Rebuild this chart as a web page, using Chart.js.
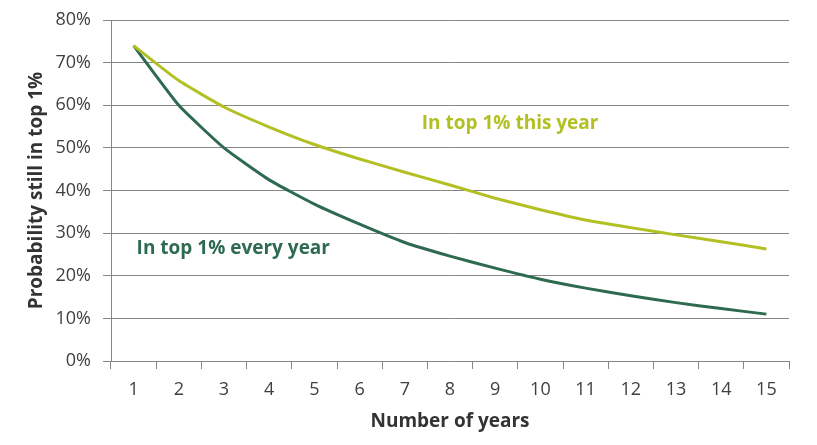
<!DOCTYPE html>
<html>
<head>
<meta charset="utf-8">
<script src="https://cdn.jsdelivr.net/npm/chart.js@4/dist/chart.umd.min.js"></script>
<style>
  html, body { margin: 0; padding: 0; background: #fff; }
  #wrap { width: 817px; height: 445px; }
</style>
</head>
<body>
<div id="wrap"><canvas id="probChart" width="817" height="445"></canvas></div>
<script>
// years and probabilities (percent)
const years = ['1','2','3','4','5','6','7','8','9','10','11','12','13','14','15'];
const thisYear  = [74, 65.8, 59.6, 54.9, 50.8, 47.4, 44.3, 41.3, 38.2, 35.5, 33.1, 31.3, 29.6, 28.0, 26.3];
const everyYear = [74, 60.0, 50.0, 42.5, 36.8, 32.1, 27.8, 24.6, 21.8, 19.2, 17.1, 15.3, 13.7, 12.3, 11.0];
const yTicks = [0, 10, 20, 30, 40, 50, 60, 70, 80];

const lime = '#b3c024';
const green = '#2e6a4f';
const font = '"Open Sans", "Noto Sans", sans-serif';

// series labels drawn next to the lines
const labelPlugin = {
  id: 'seriesLabels',
  afterDatasetsDraw(chart) {
    const { ctx, scales } = chart;
    ctx.save();
    ctx.font = 'bold 19px ' + font;
    ctx.textBaseline = 'middle';
    ctx.textAlign = 'left';
    ctx.fillStyle = lime;
    ctx.fillText('In top 1% this year', scales.x.getPixelForValue(6) + 17, scales.y.getPixelForValue(55.6));
    ctx.fillStyle = green;
    ctx.fillText('In top 1% every year', scales.x.getPixelForValue(0) + 3, scales.y.getPixelForValue(26.4));
    ctx.restore();
  }
};

const ctx = document.getElementById('probChart').getContext('2d');
new Chart(ctx, {
  type: 'line',
  data: {
    labels: years,
    datasets: [
      { label: 'In top 1% this year', data: thisYear, borderColor: lime, borderWidth: 3, pointRadius: 0, tension: 0.15, fill: false },
      { label: 'In top 1% every year', data: everyYear, borderColor: green, borderWidth: 3, pointRadius: 0, tension: 0.15, fill: false }
    ]
  },
  options: {
    responsive: false,
    animation: false,
    layout: { padding: { left: 0, right: 28, top: 8, bottom: 0 } },
    plugins: { legend: { display: false }, tooltip: { enabled: false } },
    scales: {
      x: {
        offset: true,
        grid: { offset: true, drawOnChartArea: false, color: '#868686', tickLength: 8 },
        border: { color: '#868686' },
        ticks: { color: '#404040', font: { family: font, size: 18 }, padding: 10, maxRotation: 0 },
        title: { display: true, text: 'Number of years', color: '#333', font: { family: font, size: 19, weight: 'bold' }, padding: { top: 0, bottom: 12 } },
        afterFit(scale) { scale.height = 84; }
      },
      y: {
        min: 0,
        max: 80,
        afterBuildTicks(scale) { scale.ticks = yTicks.map(v => ({ value: v })); },
        grid: { color: '#868686', tickLength: 8 },
        border: { color: '#868686' },
        ticks: {
          color: '#404040',
          font: { family: font, size: 18, lineHeight: 0.9 },
          padding: 12,
          callback: v => v + '%'
        },
        title: { display: true, text: 'Probability still in top 1%', color: '#333', font: { family: font, size: 19, weight: 'bold' }, padding: { top: 25, bottom: 0 } },
        afterFit(scale) { scale.width = 111; }
      }
    }
  },
  plugins: [labelPlugin]
});
</script>
</body>
</html>
